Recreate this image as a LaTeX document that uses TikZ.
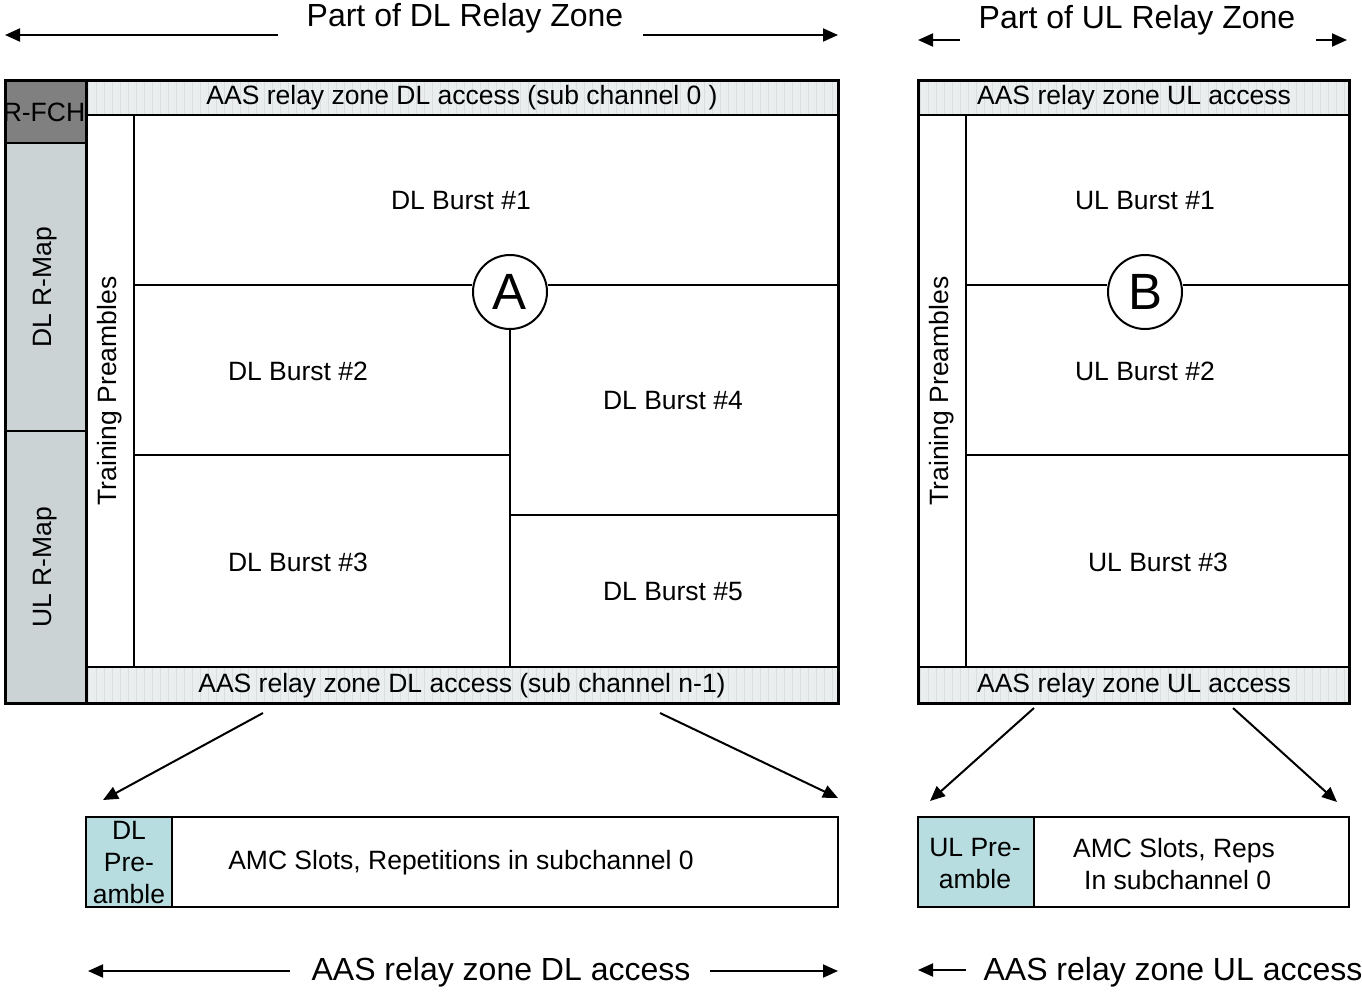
\documentclass[tikz,border=0pt]{standalone}
\usepackage{fontspec}
\setmainfont{Liberation Sans}
\usetikzlibrary{arrows.meta}
\definecolor{fchgray}{RGB}{128,128,128}
\definecolor{mapgray}{RGB}{203,211,213}
\definecolor{bandgray}{RGB}{234,238,238}
\definecolor{gridgray}{RGB}{218,222,222}
\definecolor{precyan}{RGB}{184,221,224}
\begin{document}
\begin{tikzpicture}[x=1pt,y=-1pt,
  lbl/.style={font=\fontsize{26.5}{32}\selectfont, inner sep=0pt, align=center},
  big/.style={font=\fontsize{32}{36}\selectfont, inner sep=0pt},
  letter/.style={circle, draw=black, line width=2pt, fill=white, minimum size=74pt, inner sep=0pt, font=\fontsize{51}{51}\selectfont},
  frameline/.style={draw=black, line width=3pt},
  ln/.style={draw=black, line width=2pt},
  arr/.style={-{Triangle[length=15pt,width=13pt]}, line width=2pt},
  gridband/.style={gridgray, line width=0.5pt}
]
\useasboundingbox (0,0) rectangle (1362,993);
\fill[white] (0,0) rectangle (1362,993);

% ---------- DL frame fills ----------
\fill[fchgray] (5,80) rectangle (86,143);
\fill[mapgray] (5,143) rectangle (86,703);
\fill[bandgray] (86,80) rectangle (838,115);
\fill[bandgray] (86,667) rectangle (838,703);
\begin{scope}
  \clip (86,80) rectangle (838,115);
  \draw[gridband, step=8] (86,72) grid (840,120);
\end{scope}
\begin{scope}
  \clip (86,667) rectangle (838,703);
  \draw[gridband, step=8] (86,664) grid (840,704);
\end{scope}

% ---------- UL frame fills ----------
\fill[bandgray] (918,80) rectangle (1349,115);
\fill[bandgray] (918,667) rectangle (1349,703);
\begin{scope}
  \clip (918,80) rectangle (1349,115);
  \draw[gridband, step=8] (912,72) grid (1352,120);
\end{scope}
\begin{scope}
  \clip (918,667) rectangle (1349,703);
  \draw[gridband, step=8] (912,664) grid (1352,704);
\end{scope}

% ---------- DL frame lines ----------
\draw[ln] (5,143) -- (86,143);
\draw[ln] (5,431) -- (86,431);
\draw[frameline] (86,80) -- (86,703);
\draw[ln] (86,115) -- (838,115);
\draw[ln] (86,667) -- (838,667);
\draw[ln] (134,115) -- (134,667);
\node[letter] (A) at (510,292) {A};
\coordinate (aL) at (134,285);
\coordinate (aR) at (838,285);
\coordinate (aB) at (510,667);
\draw[ln] (aL) -- (A.west |- aL);
\draw[ln] (A.east |- aR) -- (aR);
\draw[ln] (A.south) -- (aB);
\draw[ln] (134,455) -- (510,455);
\draw[ln] (510,515) -- (838,515);
\draw[frameline] (5,80) rectangle (838,703);

% ---------- UL frame lines ----------
\draw[ln] (918,115) -- (1349,115);
\draw[ln] (918,667) -- (1349,667);
\draw[ln] (966,115) -- (966,667);
\node[letter] (B) at (1145,292) {B};
\coordinate (bL) at (966,285);
\coordinate (bR) at (1349,285);
\draw[ln] (bL) -- (B.west |- bL);
\draw[ln] (B.east |- bR) -- (bR);
\draw[ln] (966,455) -- (1349,455);
\draw[frameline] (918,80) rectangle (1349,703);

% ---------- DL frame texts ----------
\node[lbl] (fch) at (44,112) {R-FCH};
\node[lbl, rotate=90] (dlmap) at (45,287) {DL R-Map};
\node[lbl, rotate=90] (ulmap) at (45,567) {UL R-Map};
\node[lbl, rotate=90] (tpdl) at (110,391) {Training Preambles};
\node[lbl] (dltop) at (462,98) {AAS relay zone DL access (sub channel 0 )};
\node[lbl] (dlbot) at (462,686) {AAS relay zone DL access (sub channel n-1)};
\node[lbl] (db1) at (461,201) {DL Burst \#1};
\node[lbl] (db2) at (298,371) {DL Burst \#2};
\node[lbl] (db3) at (298,562) {DL Burst \#3};
\node[lbl] (db4) at (673,401) {DL Burst \#4};
\node[lbl] (db5) at (673,592) {DL Burst \#5};

% ---------- UL frame texts ----------
\node[lbl, rotate=90] (tpul) at (942,391) {Training Preambles};
\node[lbl] (ultop) at (1134,98) {AAS relay zone UL access};
\node[lbl] (ulbot) at (1134,686) {AAS relay zone UL access};
\node[lbl] (ub1) at (1145,201) {UL Burst \#1};
\node[lbl] (ub2) at (1145,371) {UL Burst \#2};
\node[lbl] (ub3) at (1158,562) {UL Burst \#3};

% ---------- top zone labels ----------
\node[big] (dlzone) at (465,18) {Part of DL Relay Zone};
\coordinate (dlzL0) at (278,35);
\coordinate (dlzL1) at (5,35);
\coordinate (dlzR0) at (643,35);
\coordinate (dlzR1) at (838,35);
\draw[arr] (dlzL0) -- (dlzL1);
\draw[arr] (dlzR0) -- (dlzR1);
\node[big] (ulzone) at (1137,20) {Part of UL Relay Zone};
\coordinate (ulzL0) at (960,40);
\coordinate (ulzL1) at (918,40);
\coordinate (ulzR0) at (1316,40);
\coordinate (ulzR1) at (1347,40);
\draw[arr] (ulzL0) -- (ulzL1);
\draw[arr] (ulzR0) -- (ulzR1);

% ---------- bottom boxes ----------
\fill[precyan] (86,817) rectangle (172,907);
\draw[ln] (172,817) -- (172,907);
\draw[line width=2.5pt] (86,817) rectangle (838,907);
\node[lbl] (dlpre) at (129,863) {DL\\Pre-\\amble};
\node[lbl] (dlamc) at (461,863) {AMC Slots, Repetitions in subchannel 0};

\fill[precyan] (918,817) rectangle (1034,907);
\draw[ln] (1034,817) -- (1034,907);
\draw[line width=2.5pt] (918,817) rectangle (1349,907);
\node[lbl] (ulpre) at (975,864) {UL Pre-\\amble};
\node[lbl] (ulamc) at (1174,864) {AMC Slots, Reps\\\ In subchannel 0};

% ---------- diagonal arrows ----------
\coordinate (d1s) at (263,713);
\coordinate (d1e) at (103,800);
\coordinate (d2s) at (660,713);
\coordinate (d2e) at (838,798);
\coordinate (u1s) at (1034,708);
\coordinate (u1e) at (930,801);
\coordinate (u2s) at (1233,708);
\coordinate (u2e) at (1337,802);
\draw[arr] (d1s) -- (d1e);
\draw[arr] (d2s) -- (d2e);
\draw[arr] (u1s) -- (u1e);
\draw[arr] (u2s) -- (u2e);

% ---------- bottom access labels ----------
\node[big] (dlacc) at (501,972) {AAS relay zone DL access};
\coordinate (daL0) at (290,971);
\coordinate (daL1) at (88,971);
\coordinate (daR0) at (710,971);
\coordinate (daR1) at (838,971);
\draw[arr] (daL0) -- (daL1);
\draw[arr] (daR0) -- (daR1);
\node[big] (ulacc) at (1173,972) {AAS relay zone UL access};
\coordinate (uaL0) at (966,970);
\coordinate (uaL1) at (918,970);
\draw[arr] (uaL0) -- (uaL1);
\end{tikzpicture}
\end{document}
